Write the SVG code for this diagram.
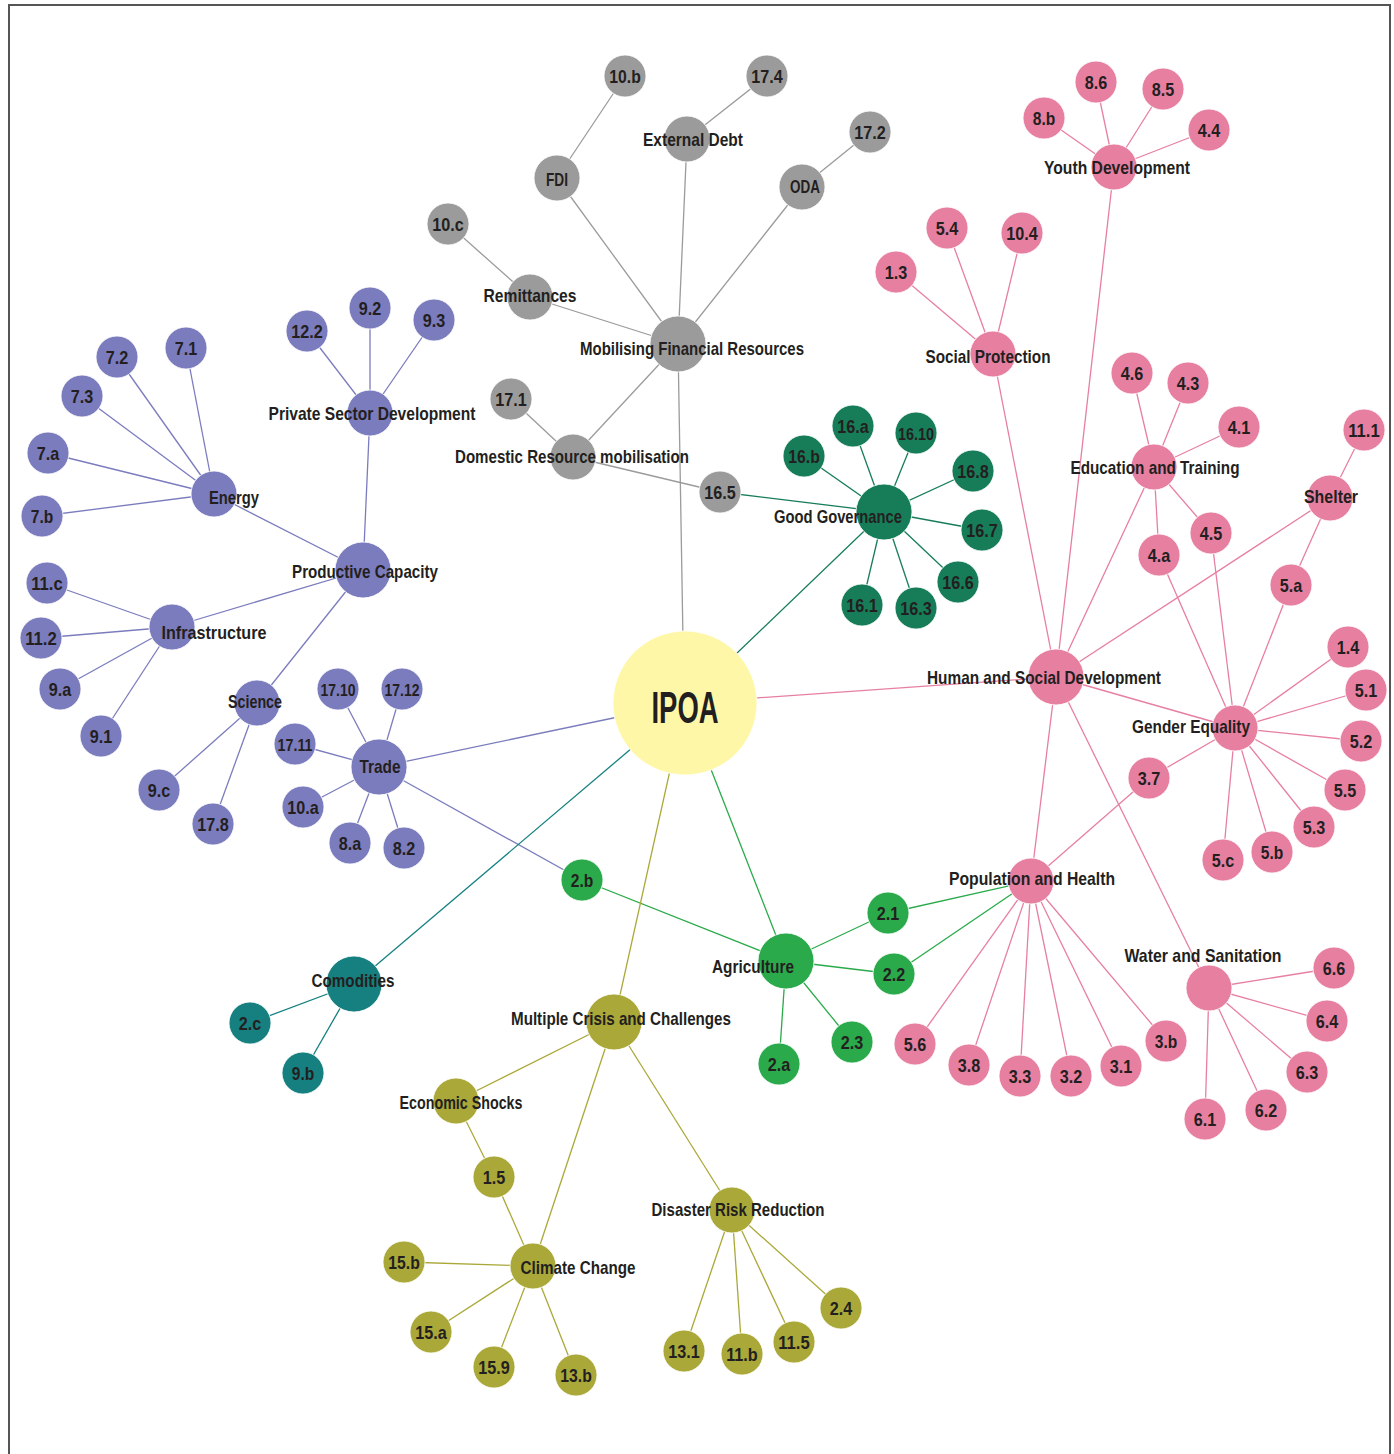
<svg xmlns="http://www.w3.org/2000/svg" width="1394" height="1454" viewBox="0 0 1394 1454">
<style>
text{font-family:"Liberation Sans Narrow","Arial Narrow","Liberation Sans",sans-serif;font-weight:700;fill:#231f20;font-size:19px;text-anchor:middle}
.s{font-size:17px}
line{stroke-width:1.3;fill:none}
.eg{stroke:#9b9b9b}.ep{stroke:#7b7cbd}.ek{stroke:#e77fa1}.ed{stroke:#167d58}.eb{stroke:#2aaa4a}.et{stroke:#168080}.eo{stroke:#aaa838}
circle{stroke:#fff;stroke-width:0.8}
.g{fill:#9b9b9b}.p{fill:#7b7cbd}.k{fill:#e77fa1}.d{fill:#167d58}.b{fill:#2aaa4a}.t{fill:#168080}.o{fill:#aaa838}
</style>
<rect x="9" y="5" width="1381" height="1470" fill="#fff" stroke="#555" stroke-width="2"/>
<g id="connectors">
<line class="eg" x1="678" y1="344" x2="683" y2="640"/>
<line class="eg" x1="678" y1="344" x2="687" y2="139"/>
<line class="eg" x1="687" y1="139" x2="767" y2="76"/>
<line class="eg" x1="678" y1="344" x2="557" y2="178"/>
<line class="eg" x1="557" y1="178" x2="625" y2="76"/>
<line class="eg" x1="678" y1="344" x2="802" y2="187"/>
<line class="eg" x1="802" y1="187" x2="870" y2="132"/>
<line class="eg" x1="678" y1="344" x2="530" y2="297"/>
<line class="eg" x1="530" y1="297" x2="448" y2="224"/>
<line class="eg" x1="678" y1="344" x2="573" y2="457"/>
<line class="eg" x1="573" y1="457" x2="511" y2="399"/>
<line class="eg" x1="573" y1="457" x2="720" y2="492"/>
<line class="ed" x1="720" y1="492" x2="884" y2="512"/>
<line class="ed" x1="884" y1="512" x2="685" y2="703"/>
<line class="ed" x1="884" y1="512" x2="853" y2="426"/>
<line class="ed" x1="884" y1="512" x2="916" y2="433"/>
<line class="ed" x1="884" y1="512" x2="804" y2="456"/>
<line class="ed" x1="884" y1="512" x2="973" y2="471"/>
<line class="ed" x1="884" y1="512" x2="982" y2="530"/>
<line class="ed" x1="884" y1="512" x2="958" y2="582"/>
<line class="ed" x1="884" y1="512" x2="916" y2="608"/>
<line class="ed" x1="884" y1="512" x2="862" y2="605"/>
<line class="ek" x1="685" y1="703" x2="1056" y2="677"/>
<line class="ek" x1="1056" y1="677" x2="993" y2="354"/>
<line class="ek" x1="993" y1="354" x2="896" y2="272"/>
<line class="ek" x1="993" y1="354" x2="947" y2="228"/>
<line class="ek" x1="993" y1="354" x2="1022" y2="233"/>
<line class="ek" x1="1056" y1="677" x2="1114" y2="167"/>
<line class="ek" x1="1114" y1="167" x2="1044" y2="118"/>
<line class="ek" x1="1114" y1="167" x2="1096" y2="82"/>
<line class="ek" x1="1114" y1="167" x2="1163" y2="89"/>
<line class="ek" x1="1114" y1="167" x2="1209" y2="130"/>
<line class="ek" x1="1056" y1="677" x2="1154" y2="467"/>
<line class="ek" x1="1154" y1="467" x2="1132" y2="373"/>
<line class="ek" x1="1154" y1="467" x2="1188" y2="383"/>
<line class="ek" x1="1154" y1="467" x2="1239" y2="427"/>
<line class="ek" x1="1154" y1="467" x2="1211" y2="533"/>
<line class="ek" x1="1154" y1="467" x2="1159" y2="555"/>
<line class="ek" x1="1056" y1="677" x2="1330" y2="498"/>
<line class="ek" x1="1330" y1="498" x2="1364" y2="430"/>
<line class="ek" x1="1330" y1="498" x2="1291" y2="585"/>
<line class="ek" x1="1056" y1="677" x2="1235" y2="728"/>
<line class="ek" x1="1235" y1="728" x2="1159" y2="555"/>
<line class="ek" x1="1235" y1="728" x2="1211" y2="533"/>
<line class="ek" x1="1235" y1="728" x2="1291" y2="585"/>
<line class="ek" x1="1235" y1="728" x2="1348" y2="647"/>
<line class="ek" x1="1235" y1="728" x2="1366" y2="690"/>
<line class="ek" x1="1235" y1="728" x2="1361" y2="741"/>
<line class="ek" x1="1235" y1="728" x2="1345" y2="790"/>
<line class="ek" x1="1235" y1="728" x2="1314" y2="827"/>
<line class="ek" x1="1235" y1="728" x2="1272" y2="852"/>
<line class="ek" x1="1235" y1="728" x2="1223" y2="860"/>
<line class="ek" x1="1235" y1="728" x2="1149" y2="778"/>
<line class="ek" x1="1149" y1="778" x2="1031" y2="881"/>
<line class="ek" x1="1056" y1="677" x2="1031" y2="881"/>
<line class="ek" x1="1031" y1="881" x2="915" y2="1044"/>
<line class="ek" x1="1031" y1="881" x2="969" y2="1065"/>
<line class="ek" x1="1031" y1="881" x2="1020" y2="1076"/>
<line class="ek" x1="1031" y1="881" x2="1071" y2="1076"/>
<line class="ek" x1="1031" y1="881" x2="1121" y2="1066"/>
<line class="ek" x1="1031" y1="881" x2="1166" y2="1041"/>
<line class="ek" x1="1056" y1="677" x2="1209" y2="988"/>
<line class="ek" x1="1209" y1="988" x2="1334" y2="968"/>
<line class="ek" x1="1209" y1="988" x2="1327" y2="1021"/>
<line class="ek" x1="1209" y1="988" x2="1307" y2="1072"/>
<line class="ek" x1="1209" y1="988" x2="1266" y2="1110"/>
<line class="ek" x1="1209" y1="988" x2="1205" y2="1119"/>
<line class="eb" x1="685" y1="703" x2="786" y2="961"/>
<line class="eb" x1="786" y1="961" x2="582" y2="880"/>
<line class="eb" x1="786" y1="961" x2="888" y2="913"/>
<line class="eb" x1="786" y1="961" x2="894" y2="974"/>
<line class="eb" x1="786" y1="961" x2="852" y2="1042"/>
<line class="eb" x1="786" y1="961" x2="779" y2="1064"/>
<line class="eb" x1="1031" y1="881" x2="888" y2="913"/>
<line class="eb" x1="1031" y1="881" x2="894" y2="974"/>
<line class="ep" x1="685" y1="703" x2="379" y2="767"/>
<line class="ep" x1="379" y1="767" x2="582" y2="880"/>
<line class="ep" x1="379" y1="767" x2="338" y2="689"/>
<line class="ep" x1="379" y1="767" x2="402" y2="689"/>
<line class="ep" x1="379" y1="767" x2="295" y2="744"/>
<line class="ep" x1="379" y1="767" x2="303" y2="807"/>
<line class="ep" x1="379" y1="767" x2="350" y2="843"/>
<line class="ep" x1="379" y1="767" x2="404" y2="848"/>
<line class="ep" x1="363" y1="570" x2="214" y2="494"/>
<line class="ep" x1="363" y1="570" x2="370" y2="413"/>
<line class="ep" x1="363" y1="570" x2="172" y2="627"/>
<line class="ep" x1="363" y1="570" x2="257" y2="703"/>
<line class="ep" x1="370" y1="413" x2="307" y2="331"/>
<line class="ep" x1="370" y1="413" x2="370" y2="308"/>
<line class="ep" x1="370" y1="413" x2="434" y2="320"/>
<line class="ep" x1="214" y1="494" x2="186" y2="348"/>
<line class="ep" x1="214" y1="494" x2="117" y2="357"/>
<line class="ep" x1="214" y1="494" x2="82" y2="396"/>
<line class="ep" x1="214" y1="494" x2="48" y2="453"/>
<line class="ep" x1="214" y1="494" x2="42" y2="516"/>
<line class="ep" x1="172" y1="627" x2="47" y2="583"/>
<line class="ep" x1="172" y1="627" x2="41" y2="638"/>
<line class="ep" x1="172" y1="627" x2="60" y2="689"/>
<line class="ep" x1="172" y1="627" x2="101" y2="736"/>
<line class="ep" x1="257" y1="703" x2="159" y2="790"/>
<line class="ep" x1="257" y1="703" x2="213" y2="824"/>
<line class="et" x1="685" y1="703" x2="354" y2="984"/>
<line class="et" x1="354" y1="984" x2="250" y2="1023"/>
<line class="et" x1="354" y1="984" x2="303" y2="1073"/>
<line class="eo" x1="685" y1="703" x2="614" y2="1022"/>
<line class="eo" x1="614" y1="1022" x2="456" y2="1101"/>
<line class="eo" x1="614" y1="1022" x2="533" y2="1266"/>
<line class="eo" x1="614" y1="1022" x2="732" y2="1210"/>
<line class="eo" x1="456" y1="1101" x2="494" y2="1177"/>
<line class="eo" x1="494" y1="1177" x2="533" y2="1266"/>
<line class="eo" x1="533" y1="1266" x2="404" y2="1262"/>
<line class="eo" x1="533" y1="1266" x2="431" y2="1332"/>
<line class="eo" x1="533" y1="1266" x2="494" y2="1367"/>
<line class="eo" x1="533" y1="1266" x2="576" y2="1375"/>
<line class="eo" x1="732" y1="1210" x2="684" y2="1351"/>
<line class="eo" x1="732" y1="1210" x2="742" y2="1354"/>
<line class="eo" x1="732" y1="1210" x2="794" y2="1342"/>
<line class="eo" x1="732" y1="1210" x2="841" y2="1308"/>
</g>
<g id="ipoa"><circle cx="685" cy="703" r="72" fill="#fff7a8" stroke="#231f20" stroke-width="1.5"/><text x="685" y="723" textLength="67" lengthAdjust="spacingAndGlyphs" style="font-size:45px">IPOA</text></g>
<g id="n10b"><circle class="g" cx="625" cy="76" r="21"/><text x="625" y="83" textLength="31.5" lengthAdjust="spacingAndGlyphs">10.b</text></g>
<g id="n174"><circle class="g" cx="767" cy="76" r="21"/><text x="767" y="83" textLength="31.5" lengthAdjust="spacingAndGlyphs">17.4</text></g>
<g id="n172"><circle class="g" cx="870" cy="132" r="21"/><text x="870" y="139" textLength="31.5" lengthAdjust="spacingAndGlyphs">17.2</text></g>
<g id="n10c"><circle class="g" cx="448" cy="224" r="21"/><text x="448" y="231" textLength="31.5" lengthAdjust="spacingAndGlyphs">10.c</text></g>
<g id="n171"><circle class="g" cx="511" cy="399" r="21"/><text x="511" y="406" textLength="31.5" lengthAdjust="spacingAndGlyphs">17.1</text></g>
<g id="n165"><circle class="g" cx="720" cy="492" r="21"/><text x="720" y="499" textLength="31.5" lengthAdjust="spacingAndGlyphs">16.5</text></g>
<g id="extdebt"><circle class="g" cx="687" cy="139" r="23"/><text x="693" y="146" textLength="100" lengthAdjust="spacingAndGlyphs">External Debt</text></g>
<g id="fdi"><circle class="g" cx="557" cy="178" r="23"/><text x="557" y="186" textLength="22" lengthAdjust="spacingAndGlyphs">FDI</text></g>
<g id="oda"><circle class="g" cx="802" cy="187" r="23"/><text x="805" y="193" textLength="30" lengthAdjust="spacingAndGlyphs">ODA</text></g>
<g id="remit"><circle class="g" cx="530" cy="297" r="23"/><text x="530" y="302" textLength="93" lengthAdjust="spacingAndGlyphs">Remittances</text></g>
<g id="drm"><circle class="g" cx="573" cy="457" r="23"/><text x="572" y="463" textLength="234" lengthAdjust="spacingAndGlyphs">Domestic Resource mobilisation</text></g>
<g id="mfr"><circle class="g" cx="678" cy="344" r="28"/><text x="692" y="355" textLength="224" lengthAdjust="spacingAndGlyphs">Mobilising Financial Resources</text></g>
<g id="gg"><circle class="d" cx="884" cy="512" r="28"/><text x="838" y="523" textLength="128" lengthAdjust="spacingAndGlyphs">Good Governance</text></g>
<g id="n16a"><circle class="d" cx="853" cy="426" r="21"/><text x="853" y="433" textLength="31.5" lengthAdjust="spacingAndGlyphs">16.a</text></g>
<g id="n1610"><circle class="d" cx="916" cy="433" r="21"/><text class="s" x="916" y="439.5" textLength="36" lengthAdjust="spacingAndGlyphs">16.10</text></g>
<g id="n16b"><circle class="d" cx="804" cy="456" r="21"/><text x="804" y="463" textLength="31.5" lengthAdjust="spacingAndGlyphs">16.b</text></g>
<g id="n168"><circle class="d" cx="973" cy="471" r="21"/><text x="973" y="478" textLength="31.5" lengthAdjust="spacingAndGlyphs">16.8</text></g>
<g id="n167"><circle class="d" cx="982" cy="530" r="21"/><text x="982" y="537" textLength="31.5" lengthAdjust="spacingAndGlyphs">16.7</text></g>
<g id="n166"><circle class="d" cx="958" cy="582" r="21"/><text x="958" y="589" textLength="31.5" lengthAdjust="spacingAndGlyphs">16.6</text></g>
<g id="n163"><circle class="d" cx="916" cy="608" r="21"/><text x="916" y="615" textLength="31.5" lengthAdjust="spacingAndGlyphs">16.3</text></g>
<g id="n161"><circle class="d" cx="862" cy="605" r="21"/><text x="862" y="612" textLength="31.5" lengthAdjust="spacingAndGlyphs">16.1</text></g>
<g id="n86"><circle class="k" cx="1096" cy="82" r="21"/><text x="1096" y="89" textLength="22.5" lengthAdjust="spacingAndGlyphs">8.6</text></g>
<g id="n85"><circle class="k" cx="1163" cy="89" r="21"/><text x="1163" y="96" textLength="22.5" lengthAdjust="spacingAndGlyphs">8.5</text></g>
<g id="n8b"><circle class="k" cx="1044" cy="118" r="21"/><text x="1044" y="125" textLength="22.5" lengthAdjust="spacingAndGlyphs">8.b</text></g>
<g id="n44"><circle class="k" cx="1209" cy="130" r="21"/><text x="1209" y="137" textLength="22.5" lengthAdjust="spacingAndGlyphs">4.4</text></g>
<g id="yd"><circle class="k" cx="1114" cy="167" r="23"/><text x="1117" y="174" textLength="146" lengthAdjust="spacingAndGlyphs">Youth Development</text></g>
<g id="n54"><circle class="k" cx="947" cy="228" r="21"/><text x="947" y="235" textLength="22.5" lengthAdjust="spacingAndGlyphs">5.4</text></g>
<g id="n104"><circle class="k" cx="1022" cy="233" r="21"/><text x="1022" y="240" textLength="31.5" lengthAdjust="spacingAndGlyphs">10.4</text></g>
<g id="n13"><circle class="k" cx="896" cy="272" r="21"/><text x="896" y="279" textLength="22.5" lengthAdjust="spacingAndGlyphs">1.3</text></g>
<g id="sp"><circle class="k" cx="993" cy="354" r="23"/><text x="988" y="363" textLength="125" lengthAdjust="spacingAndGlyphs">Social Protection</text></g>
<g id="n46"><circle class="k" cx="1132" cy="373" r="21"/><text x="1132" y="380" textLength="22.5" lengthAdjust="spacingAndGlyphs">4.6</text></g>
<g id="n43"><circle class="k" cx="1188" cy="383" r="21"/><text x="1188" y="390" textLength="22.5" lengthAdjust="spacingAndGlyphs">4.3</text></g>
<g id="n41"><circle class="k" cx="1239" cy="427" r="21"/><text x="1239" y="434" textLength="22.5" lengthAdjust="spacingAndGlyphs">4.1</text></g>
<g id="n111"><circle class="k" cx="1364" cy="430" r="21"/><text x="1364" y="437" textLength="31.5" lengthAdjust="spacingAndGlyphs">11.1</text></g>
<g id="et"><circle class="k" cx="1154" cy="467" r="23"/><text x="1155" y="474" textLength="169" lengthAdjust="spacingAndGlyphs">Education and Training</text></g>
<g id="shelter"><circle class="k" cx="1330" cy="498" r="23"/><text x="1331" y="503" textLength="54" lengthAdjust="spacingAndGlyphs">Shelter</text></g>
<g id="n45"><circle class="k" cx="1211" cy="533" r="21"/><text x="1211" y="540" textLength="22.5" lengthAdjust="spacingAndGlyphs">4.5</text></g>
<g id="n4a"><circle class="k" cx="1159" cy="555" r="21"/><text x="1159" y="562" textLength="22.5" lengthAdjust="spacingAndGlyphs">4.a</text></g>
<g id="n5a"><circle class="k" cx="1291" cy="585" r="21"/><text x="1291" y="592" textLength="22.5" lengthAdjust="spacingAndGlyphs">5.a</text></g>
<g id="n14"><circle class="k" cx="1348" cy="647" r="21"/><text x="1348" y="654" textLength="22.5" lengthAdjust="spacingAndGlyphs">1.4</text></g>
<g id="n51"><circle class="k" cx="1366" cy="690" r="21"/><text x="1366" y="697" textLength="22.5" lengthAdjust="spacingAndGlyphs">5.1</text></g>
<g id="n52"><circle class="k" cx="1361" cy="741" r="21"/><text x="1361" y="748" textLength="22.5" lengthAdjust="spacingAndGlyphs">5.2</text></g>
<g id="n55"><circle class="k" cx="1345" cy="790" r="21"/><text x="1345" y="797" textLength="22.5" lengthAdjust="spacingAndGlyphs">5.5</text></g>
<g id="n53"><circle class="k" cx="1314" cy="827" r="21"/><text x="1314" y="834" textLength="22.5" lengthAdjust="spacingAndGlyphs">5.3</text></g>
<g id="n5b"><circle class="k" cx="1272" cy="852" r="21"/><text x="1272" y="859" textLength="22.5" lengthAdjust="spacingAndGlyphs">5.b</text></g>
<g id="n5c"><circle class="k" cx="1223" cy="860" r="21"/><text x="1223" y="867" textLength="22.5" lengthAdjust="spacingAndGlyphs">5.c</text></g>
<g id="n37"><circle class="k" cx="1149" cy="778" r="21"/><text x="1149" y="785" textLength="22.5" lengthAdjust="spacingAndGlyphs">3.7</text></g>
<g id="ge"><circle class="k" cx="1235" cy="728" r="23"/><text x="1191" y="733" textLength="118" lengthAdjust="spacingAndGlyphs">Gender Equality</text></g>
<g id="hsd"><circle class="k" cx="1056" cy="677" r="28"/><text x="1044" y="684" textLength="234" lengthAdjust="spacingAndGlyphs">Human and Social Development</text></g>
<g id="ph"><circle class="k" cx="1031" cy="881" r="23"/><text x="1032" y="885" textLength="166" lengthAdjust="spacingAndGlyphs">Population and Health</text></g>
<g id="n56"><circle class="k" cx="915" cy="1044" r="21"/><text x="915" y="1051" textLength="22.5" lengthAdjust="spacingAndGlyphs">5.6</text></g>
<g id="n38"><circle class="k" cx="969" cy="1065" r="21"/><text x="969" y="1072" textLength="22.5" lengthAdjust="spacingAndGlyphs">3.8</text></g>
<g id="n33"><circle class="k" cx="1020" cy="1076" r="21"/><text x="1020" y="1083" textLength="22.5" lengthAdjust="spacingAndGlyphs">3.3</text></g>
<g id="n32"><circle class="k" cx="1071" cy="1076" r="21"/><text x="1071" y="1083" textLength="22.5" lengthAdjust="spacingAndGlyphs">3.2</text></g>
<g id="n31"><circle class="k" cx="1121" cy="1066" r="21"/><text x="1121" y="1073" textLength="22.5" lengthAdjust="spacingAndGlyphs">3.1</text></g>
<g id="n3b"><circle class="k" cx="1166" cy="1041" r="21"/><text x="1166" y="1048" textLength="22.5" lengthAdjust="spacingAndGlyphs">3.b</text></g>
<g id="ws"><circle class="k" cx="1209" cy="988" r="23"/><text x="1203" y="962" textLength="157" lengthAdjust="spacingAndGlyphs">Water and Sanitation</text></g>
<g id="n66"><circle class="k" cx="1334" cy="968" r="21"/><text x="1334" y="975" textLength="22.5" lengthAdjust="spacingAndGlyphs">6.6</text></g>
<g id="n64"><circle class="k" cx="1327" cy="1021" r="21"/><text x="1327" y="1028" textLength="22.5" lengthAdjust="spacingAndGlyphs">6.4</text></g>
<g id="n63"><circle class="k" cx="1307" cy="1072" r="21"/><text x="1307" y="1079" textLength="22.5" lengthAdjust="spacingAndGlyphs">6.3</text></g>
<g id="n62"><circle class="k" cx="1266" cy="1110" r="21"/><text x="1266" y="1117" textLength="22.5" lengthAdjust="spacingAndGlyphs">6.2</text></g>
<g id="n61"><circle class="k" cx="1205" cy="1119" r="21"/><text x="1205" y="1126" textLength="22.5" lengthAdjust="spacingAndGlyphs">6.1</text></g>
<g id="n2b"><circle class="b" cx="582" cy="880" r="21"/><text x="582" y="887" textLength="22.5" lengthAdjust="spacingAndGlyphs">2.b</text></g>
<g id="n21"><circle class="b" cx="888" cy="913" r="21"/><text x="888" y="920" textLength="22.5" lengthAdjust="spacingAndGlyphs">2.1</text></g>
<g id="n22"><circle class="b" cx="894" cy="974" r="21"/><text x="894" y="981" textLength="22.5" lengthAdjust="spacingAndGlyphs">2.2</text></g>
<g id="n23"><circle class="b" cx="852" cy="1042" r="21"/><text x="852" y="1049" textLength="22.5" lengthAdjust="spacingAndGlyphs">2.3</text></g>
<g id="n2a"><circle class="b" cx="779" cy="1064" r="21"/><text x="779" y="1071" textLength="22.5" lengthAdjust="spacingAndGlyphs">2.a</text></g>
<g id="agri"><circle class="b" cx="786" cy="961" r="28"/><text x="753" y="973" textLength="82" lengthAdjust="spacingAndGlyphs">Agriculture</text></g>
<g id="n122"><circle class="p" cx="307" cy="331" r="21"/><text x="307" y="338" textLength="31.5" lengthAdjust="spacingAndGlyphs">12.2</text></g>
<g id="n92"><circle class="p" cx="370" cy="308" r="21"/><text x="370" y="315" textLength="22.5" lengthAdjust="spacingAndGlyphs">9.2</text></g>
<g id="n93"><circle class="p" cx="434" cy="320" r="21"/><text x="434" y="327" textLength="22.5" lengthAdjust="spacingAndGlyphs">9.3</text></g>
<g id="psd"><circle class="p" cx="370" cy="413" r="23"/><text x="372" y="420" textLength="207" lengthAdjust="spacingAndGlyphs">Private Sector Development</text></g>
<g id="n71"><circle class="p" cx="186" cy="348" r="21"/><text x="186" y="355" textLength="22.5" lengthAdjust="spacingAndGlyphs">7.1</text></g>
<g id="n72"><circle class="p" cx="117" cy="357" r="21"/><text x="117" y="364" textLength="22.5" lengthAdjust="spacingAndGlyphs">7.2</text></g>
<g id="n73"><circle class="p" cx="82" cy="396" r="21"/><text x="82" y="403" textLength="22.5" lengthAdjust="spacingAndGlyphs">7.3</text></g>
<g id="n7a"><circle class="p" cx="48" cy="453" r="21"/><text x="48" y="460" textLength="22.5" lengthAdjust="spacingAndGlyphs">7.a</text></g>
<g id="n7b"><circle class="p" cx="42" cy="516" r="21"/><text x="42" y="523" textLength="22.5" lengthAdjust="spacingAndGlyphs">7.b</text></g>
<g id="energy"><circle class="p" cx="214" cy="494" r="23"/><text x="234" y="504" textLength="50" lengthAdjust="spacingAndGlyphs">Energy</text></g>
<g id="pc"><circle class="p" cx="363" cy="570" r="28"/><text x="365" y="578" textLength="146" lengthAdjust="spacingAndGlyphs">Productive Capacity</text></g>
<g id="n11c"><circle class="p" cx="47" cy="583" r="21"/><text x="47" y="590" textLength="31.5" lengthAdjust="spacingAndGlyphs">11.c</text></g>
<g id="n112"><circle class="p" cx="41" cy="638" r="21"/><text x="41" y="645" textLength="31.5" lengthAdjust="spacingAndGlyphs">11.2</text></g>
<g id="n9a"><circle class="p" cx="60" cy="689" r="21"/><text x="60" y="696" textLength="22.5" lengthAdjust="spacingAndGlyphs">9.a</text></g>
<g id="n91"><circle class="p" cx="101" cy="736" r="21"/><text x="101" y="743" textLength="22.5" lengthAdjust="spacingAndGlyphs">9.1</text></g>
<g id="infra"><circle class="p" cx="172" cy="627" r="23"/><text x="214" y="639" textLength="105" lengthAdjust="spacingAndGlyphs">Infrastructure</text></g>
<g id="science"><circle class="p" cx="257" cy="703" r="23"/><text x="255" y="708" textLength="54" lengthAdjust="spacingAndGlyphs">Science</text></g>
<g id="n9c"><circle class="p" cx="159" cy="790" r="21"/><text x="159" y="797" textLength="22.5" lengthAdjust="spacingAndGlyphs">9.c</text></g>
<g id="n178"><circle class="p" cx="213" cy="824" r="21"/><text x="213" y="831" textLength="31.5" lengthAdjust="spacingAndGlyphs">17.8</text></g>
<g id="n1710"><circle class="p" cx="338" cy="689" r="21"/><text class="s" x="338" y="695.5" textLength="35" lengthAdjust="spacingAndGlyphs">17.10</text></g>
<g id="n1712"><circle class="p" cx="402" cy="689" r="21"/><text class="s" x="402" y="695.5" textLength="35" lengthAdjust="spacingAndGlyphs">17.12</text></g>
<g id="n1711"><circle class="p" cx="295" cy="744" r="21"/><text class="s" x="295" y="750.5" textLength="35" lengthAdjust="spacingAndGlyphs">17.11</text></g>
<g id="n10a"><circle class="p" cx="303" cy="807" r="21"/><text x="303" y="814" textLength="31.5" lengthAdjust="spacingAndGlyphs">10.a</text></g>
<g id="n8a"><circle class="p" cx="350" cy="843" r="21"/><text x="350" y="850" textLength="22.5" lengthAdjust="spacingAndGlyphs">8.a</text></g>
<g id="n82"><circle class="p" cx="404" cy="848" r="21"/><text x="404" y="855" textLength="22.5" lengthAdjust="spacingAndGlyphs">8.2</text></g>
<g id="trade"><circle class="p" cx="379" cy="767" r="28"/><text x="380" y="773" textLength="41" lengthAdjust="spacingAndGlyphs">Trade</text></g>
<g id="comod"><circle class="t" cx="354" cy="984" r="28"/><text x="353" y="987" textLength="83" lengthAdjust="spacingAndGlyphs">Comodities</text></g>
<g id="n2c"><circle class="t" cx="250" cy="1023" r="21"/><text x="250" y="1030" textLength="22.5" lengthAdjust="spacingAndGlyphs">2.c</text></g>
<g id="n9b"><circle class="t" cx="303" cy="1073" r="21"/><text x="303" y="1080" textLength="22.5" lengthAdjust="spacingAndGlyphs">9.b</text></g>
<g id="mcc"><circle class="o" cx="614" cy="1022" r="28"/><text x="621" y="1025" textLength="220" lengthAdjust="spacingAndGlyphs">Multiple Crisis and Challenges</text></g>
<g id="es"><circle class="o" cx="456" cy="1101" r="23"/><text x="461" y="1109" textLength="123" lengthAdjust="spacingAndGlyphs">Economic Shocks</text></g>
<g id="n15"><circle class="o" cx="494" cy="1177" r="21"/><text x="494" y="1184" textLength="22.5" lengthAdjust="spacingAndGlyphs">1.5</text></g>
<g id="drr"><circle class="o" cx="732" cy="1210" r="23"/><text x="738" y="1216" textLength="173" lengthAdjust="spacingAndGlyphs">Disaster Risk Reduction</text></g>
<g id="n15b"><circle class="o" cx="404" cy="1262" r="21"/><text x="404" y="1269" textLength="31.5" lengthAdjust="spacingAndGlyphs">15.b</text></g>
<g id="cc"><circle class="o" cx="533" cy="1266" r="23"/><text x="578" y="1274" textLength="115" lengthAdjust="spacingAndGlyphs">Climate Change</text></g>
<g id="n15a"><circle class="o" cx="431" cy="1332" r="21"/><text x="431" y="1339" textLength="31.5" lengthAdjust="spacingAndGlyphs">15.a</text></g>
<g id="n159"><circle class="o" cx="494" cy="1367" r="21"/><text x="494" y="1374" textLength="31.5" lengthAdjust="spacingAndGlyphs">15.9</text></g>
<g id="n13b"><circle class="o" cx="576" cy="1375" r="21"/><text x="576" y="1382" textLength="31.5" lengthAdjust="spacingAndGlyphs">13.b</text></g>
<g id="n131"><circle class="o" cx="684" cy="1351" r="21"/><text x="684" y="1358" textLength="31.5" lengthAdjust="spacingAndGlyphs">13.1</text></g>
<g id="n11b"><circle class="o" cx="742" cy="1354" r="21"/><text x="742" y="1361" textLength="31.5" lengthAdjust="spacingAndGlyphs">11.b</text></g>
<g id="n115"><circle class="o" cx="794" cy="1342" r="21"/><text x="794" y="1349" textLength="31.5" lengthAdjust="spacingAndGlyphs">11.5</text></g>
<g id="n24"><circle class="o" cx="841" cy="1308" r="21"/><text x="841" y="1315" textLength="22.5" lengthAdjust="spacingAndGlyphs">2.4</text></g>
</svg>
